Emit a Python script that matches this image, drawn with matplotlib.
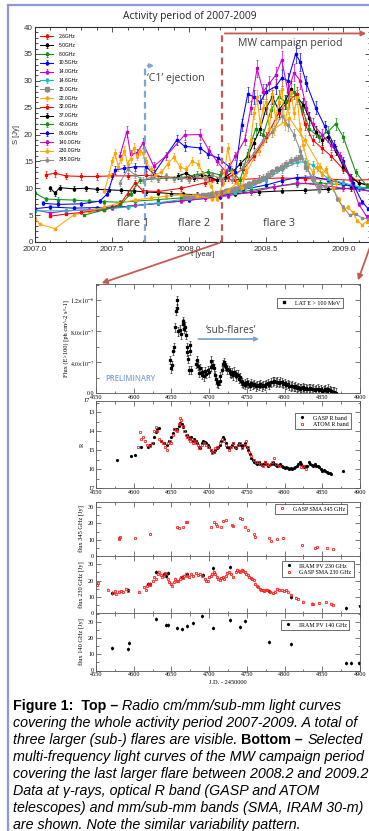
import matplotlib
matplotlib.use('Agg')
import matplotlib.pyplot as plt
import numpy as np
from matplotlib.ticker import MultipleLocator
from matplotlib.patches import FancyArrowPatch
from matplotlib.lines import Line2D

plt.rcParams['font.family'] = ['Liberation Serif', 'DejaVu Serif']
plt.rcParams['mathtext.fontset'] = 'stix'

SANS = ['Liberation Sans', 'DejaVu Sans']
HUM = ['Open Sans', 'DejaVu Sans']

# ---------------- top panel: radio light curves 2007-2009 (year, Jy) ----------------
F2_6 = [(2007.07, 12.5), (2007.13, 12.8), (2007.2, 12.3), (2007.3, 12.2), (2007.4, 12.2), (2007.5, 12.3),
        (2007.6, 12.3), (2007.72, 12.4), (2007.85, 12.1), (2008.0, 11.9), (2008.15, 11.7), (2008.3, 11.6),
        (2008.45, 11.8), (2008.6, 11.9), (2008.75, 11.8), (2008.9, 11.7), (2009.05, 11.5), (2009.2, 11.6)]
F5_0 = [(2007.1, 10.0), (2007.13, 9.1), (2007.16, 10.1), (2007.25, 9.9), (2007.33, 10.0), (2007.4, 9.8),
        (2007.48, 9.7), (2007.56, 9.6), (2007.64, 9.5), (2007.72, 9.3), (2007.8, 9.2), (2007.88, 9.0),
        (2007.96, 8.9), (2008.05, 8.8), (2008.15, 8.8), (2008.3, 9.0), (2008.45, 9.3), (2008.6, 9.5),
        (2008.75, 9.6), (2008.9, 9.8), (2009.05, 10.0), (2009.2, 10.1)]
F8_0 = [(2007.0, 9.1), (2007.07, 8.0), (2007.15, 7.9), (2007.25, 7.8), (2007.35, 7.6), (2007.45, 7.5),
        (2007.55, 7.4), (2007.65, 7.6), (2007.8, 7.9), (2007.95, 8.2), (2008.1, 8.6), (2008.25, 9.0),
        (2008.4, 9.6), (2008.55, 10.3), (2008.7, 10.8), (2008.85, 11.0), (2009.0, 10.6), (2009.2, 9.8)]
F10_5 = [(2007.0, 6.2), (2007.1, 6.5), (2007.25, 6.3), (2007.4, 6.4), (2007.5, 6.5), (2007.6, 6.6),
         (2007.8, 7.2), (2008.0, 7.8), (2008.2, 8.4), (2008.35, 9.8), (2008.5, 10.6), (2008.6, 11.4),
         (2008.7, 12.0), (2008.8, 12.1), (2008.9, 11.6), (2009.0, 10.8), (2009.1, 10.0), (2009.2, 9.2)]
F14_0 = [(2007.0, 6.0), (2007.1, 5.4), (2007.2, 5.8), (2007.35, 6.0), (2007.5, 6.3), (2007.65, 6.8),
         (2007.8, 7.2), (2007.95, 7.6), (2008.1, 8.1), (2008.25, 8.6), (2008.4, 9.3), (2008.55, 10.2),
         (2008.7, 11.0), (2008.85, 10.6), (2009.0, 10.0), (2009.2, 9.4)]
F14_6 = [(2007.0, 5.8), (2007.2, 5.8), (2007.4, 6.0), (2007.6, 6.5), (2007.8, 7.3), (2008.0, 8.1),
         (2008.15, 8.7), (2008.3, 9.2), (2008.4, 10.3), (2008.5, 11.6), (2008.6, 13.5), (2008.7, 14.8),
         (2008.75, 14.9), (2008.8, 14.3), (2008.9, 11.8), (2009.0, 11.0), (2009.1, 10.3), (2009.2, 9.7)]
F15_0 = [(2007.97, 8.3), (2008.0, 8.4), (2008.03, 8.5), (2008.06, 8.6), (2008.09, 8.7), (2008.12, 8.8),
         (2008.15, 9.0), (2008.18, 9.1), (2008.21, 9.3), (2008.24, 9.5), (2008.27, 9.7), (2008.3, 9.9),
         (2008.33, 10.2), (2008.36, 10.5), (2008.39, 10.8), (2008.42, 11.2), (2008.45, 11.6), (2008.48, 12.0),
         (2008.51, 12.5), (2008.54, 13.0), (2008.57, 13.5), (2008.6, 14.0), (2008.63, 14.5), (2008.66, 15.0),
         (2008.69, 15.5), (2008.72, 15.9), (2008.76, 14.0), (2008.8, 12.0), (2008.84, 10.5)]
F22_0 = [(2007.0, 4.5), (2007.03, 3.3), (2007.13, 2.5), (2007.25, 5.0), (2007.35, 5.8), (2007.45, 6.5),
         (2007.55, 7.3), (2007.65, 7.8), (2007.75, 8.2), (2007.85, 8.5), (2007.95, 8.8), (2008.05, 8.6),
         (2008.15, 8.0), (2008.25, 9.5), (2008.35, 12.0), (2008.45, 17.0), (2008.55, 21.0), (2008.65, 23.0),
         (2008.75, 19.0), (2008.85, 14.0), (2008.95, 11.0)]
F32_0 = [(2007.1, 4.8), (2007.2, 5.2), (2007.3, 5.5), (2007.45, 6.0), (2007.55, 7.0), (2007.6, 9.0),
         (2007.65, 11.0), (2007.7, 9.5), (2007.8, 9.4), (2007.95, 10.0), (2008.1, 11.0), (2008.25, 12.0),
         (2008.35, 13.5), (2008.42, 16.0), (2008.5, 19.5), (2008.58, 24.0), (2008.65, 26.5), (2008.7, 27.5),
         (2008.75, 22.0), (2008.8, 19.0), (2008.86, 17.5), (2008.92, 16.0), (2009.0, 13.5), (2009.1, 11.0),
         (2009.2, 10.5)]
F37_0 = [(2007.93, 12.3), (2007.98, 12.8), (2008.03, 12.0), (2008.08, 12.5), (2008.13, 12.2), (2008.18, 11.5),
         (2008.23, 12.0), (2008.28, 13.0), (2008.33, 14.5), (2008.38, 16.0), (2008.42, 18.5), (2008.46, 21.0),
         (2008.5, 25.0), (2008.54, 27.0), (2008.58, 24.5), (2008.62, 26.0), (2008.66, 28.5), (2008.7, 27.0),
         (2008.74, 25.5), (2008.78, 23.0), (2008.82, 20.5), (2008.86, 19.0), (2008.9, 19.5), (2008.95, 17.0),
         (2009.0, 14.0), (2009.05, 12.0), (2009.1, 11.0), (2009.2, 10.2)]
F43_0 = [(2007.32, 5.0), (2007.45, 6.0), (2007.55, 6.8), (2007.62, 9.0), (2007.68, 11.5), (2007.8, 11.8),
         (2007.95, 12.0), (2008.05, 12.5), (2008.12, 13.0), (2008.2, 12.5), (2008.27, 13.5), (2008.33, 11.5),
         (2008.38, 16.5), (2008.43, 21.0), (2008.48, 20.0), (2008.53, 24.5), (2008.58, 27.0), (2008.63, 26.0),
         (2008.68, 28.0), (2008.73, 25.0), (2008.78, 21.0), (2008.84, 19.5), (2008.9, 20.5), (2008.95, 22.0),
         (2009.0, 19.5), (2009.08, 13.0), (2009.15, 10.5), (2009.2, 9.5)]
F86_0 = [(2007.05, 7.2), (2007.15, 7.0), (2007.3, 7.1), (2007.42, 7.6), (2007.47, 9.0), (2007.52, 13.4),
         (2007.58, 13.7), (2007.65, 14.0), (2007.72, 14.0), (2007.77, 12.7), (2007.92, 19.0), (2007.97, 17.8),
         (2008.07, 17.5), (2008.12, 16.4), (2008.19, 15.6), (2008.26, 14.0), (2008.3, 13.0), (2008.34, 21.8),
         (2008.38, 27.5), (2008.42, 27.0), (2008.46, 26.0), (2008.5, 28.0), (2008.56, 28.9), (2008.6, 30.5),
         (2008.64, 30.0), (2008.69, 35.0), (2008.72, 33.5), (2008.76, 29.5), (2008.82, 25.0), (2008.88, 21.5),
         (2008.94, 18.0), (2009.0, 15.0), (2009.06, 11.0), (2009.12, 7.5), (2009.16, 6.2), (2009.2, 6.0)]
F140 = [(2007.55, 16.0), (2007.595, 20.5), (2007.62, 16.3), (2007.66, 16.5), (2007.7, 18.4), (2007.77, 14.1),
        (2007.85, 16.0), (2007.97, 19.9), (2008.07, 20.0), (2008.13, 17.0), (2008.18, 15.0), (2008.24, 13.0),
        (2008.3, 16.0), (2008.36, 19.0), (2008.4, 25.0), (2008.44, 32.3), (2008.48, 28.0), (2008.52, 29.5),
        (2008.56, 31.0), (2008.6, 33.9), (2008.64, 28.0), (2008.68, 31.5), (2008.72, 30.0), (2008.76, 25.0),
        (2008.8, 22.0), (2008.86, 20.0), (2008.92, 18.0), (2008.98, 16.0), (2009.04, 12.0), (2009.1, 7.0),
        (2009.15, 4.8), (2009.2, 5.0)]
F230 = [(2007.45, 9.5), (2007.48, 12.5), (2007.5, 15.0), (2007.52, 16.5), (2007.54, 14.0), (2007.56, 15.5),
        (2007.58, 17.0), (2007.6, 14.5), (2007.62, 15.5), (2007.64, 17.5), (2007.66, 16.0), (2007.68, 17.0),
        (2007.7, 16.5), (2007.72, 15.0), (2007.75, 13.5), (2007.78, 12.5), (2007.82, 13.0), (2007.86, 14.5),
        (2007.9, 15.8), (2007.94, 14.0), (2007.98, 13.5), (2008.02, 15.0), (2008.06, 14.5), (2008.1, 12.0),
        (2008.14, 10.5), (2008.18, 8.0), (2008.22, 11.0), (2008.25, 17.5), (2008.28, 13.0), (2008.31, 11.0),
        (2008.34, 10.0), (2008.37, 13.0), (2008.4, 19.0), (2008.42, 24.0), (2008.44, 27.0), (2008.46, 22.0),
        (2008.48, 25.0), (2008.5, 26.0), (2008.52, 21.0), (2008.54, 27.5), (2008.56, 23.0), (2008.58, 26.0),
        (2008.6, 28.5), (2008.62, 22.0), (2008.64, 25.0), (2008.66, 28.0), (2008.68, 24.0), (2008.7, 27.0),
        (2008.72, 21.0), (2008.74, 18.0), (2008.77, 14.5), (2008.8, 13.0), (2008.83, 14.0), (2008.86, 12.5),
        (2008.89, 13.5), (2008.93, 10.0), (2008.97, 8.0), (2009.0, 6.0), (2009.03, 6.5), (2009.06, 5.5),
        (2009.09, 4.0), (2009.12, 3.2), (2009.15, 3.8), (2009.18, 3.5)]
F345 = [(2007.55, 11.0), (2007.6, 13.5), (2007.65, 12.5), (2007.7, 11.5), (2007.75, 12.0), (2007.8, 11.8),
        (2007.85, 12.3), (2007.9, 11.7), (2007.95, 12.0), (2008.0, 11.5), (2008.05, 12.2), (2008.1, 11.8),
        (2008.15, 12.4), (2008.2, 11.9), (2008.28, 11.5), (2008.35, 14.0), (2008.42, 16.5), (2008.48, 19.0),
        (2008.54, 20.5), (2008.6, 23.5), (2008.64, 21.8), (2008.68, 20.0), (2008.72, 17.0), (2008.76, 14.0),
        (2008.8, 11.5), (2008.84, 9.5), (2008.88, 10.5), (2008.92, 11.2), (2008.96, 8.0), (2009.0, 6.5),
        (2009.04, 5.0), (2009.08, 5.2), (2009.12, 4.5), (2009.16, 4.3)]

RADIO = [('2.6GHz', F2_6, '#ff0000'), ('5.0GHz', F5_0, '#000000'), ('8.0GHz', F8_0, '#109010'),
         ('10.5GHz', F10_5, '#0000ff'), ('14.0GHz', F14_0, '#cc00cc'), ('14.6GHz', F14_6, '#10c0c0'),
         ('15.0GHz', F15_0, '#8c8c8c'), ('22.0GHz', F22_0, '#ffa500'), ('32.0GHz', F32_0, '#ff0000'),
         ('37.0GHz', F37_0, '#000000'), ('43.0GHz', F43_0, '#109010'), ('86.0GHz', F86_0, '#0000ff'),
         ('140.0GHz', F140, '#cc00cc'), ('230.0GHz', F230, '#ffa500'), ('345.0GHz', F345, '#8c8c8c')]

# ---------------- bottom panels (JD - 2450000) ----------------
GAMMA = [(4648, 4.3), (4650, 3.2), (4651, 3.6), (4652, 5.5), (4653, 6.0), (4655, 8.5), (4656, 10.6), (4657, 12.0),
         (4658, 11.0), (4659, 8.0), (4661, 8.2), (4663, 7.6), (4665, 9.3), (4666, 9.0), (4667, 8.3), (4668, 8.6),
         (4669, 7.5), (4670, 6.0), (4671, 5.3), (4672, 4.4), (4673, 3.0), (4674, 5.5), (4675, 6.2), (4676, 3.0),
         (4683, 3.8), (4684, 4.3), (4685, 3.5), (4687, 2.6), (4688, 3.2), (4690, 2.4), (4691, 2.8), (4693, 2.2),
         (4694, 2.9), (4696, 2.5), (4698, 3.0), (4700, 2.7), (4702, 3.4), (4703, 4.2), (4705, 3.7), (4706, 3.2),
         (4708, 2.3), (4709, 1.8), (4711, 1.4), (4712, 1.2), (4714, 1.6), (4715, 2.2), (4717, 3.0), (4718, 3.8),
         (4720, 4.0), (4721, 3.6), (4723, 3.4), (4724, 3.1), (4726, 3.0), (4727, 2.7), (4729, 2.5), (4730, 2.7),
         (4732, 2.3), (4733, 2.8), (4735, 2.5), (4736, 2.2), (4738, 2.4), (4739, 1.9), (4741, 2.1), (4742, 1.6),
         (4744, 1.4), (4745, 1.2), (4747, 1.3), (4748, 1.1), (4750, 1.4), (4752, 1.2), (4754, 1.0), (4756, 1.3),
         (4758, 1.1), (4760, 1.2), (4762, 0.9), (4764, 1.1), (4766, 1.0), (4768, 1.2), (4770, 0.9), (4772, 1.1),
         (4774, 1.0), (4776, 1.2), (4778, 1.3), (4780, 1.1), (4782, 1.4), (4784, 1.5), (4786, 1.6), (4788, 1.4),
         (4790, 1.5), (4792, 1.3), (4794, 1.5), (4796, 1.4), (4798, 1.2), (4800, 1.3), (4802, 1.1), (4804, 1.2),
         (4806, 1.0), (4808, 0.9), (4810, 1.0), (4812, 0.8), (4814, 0.9), (4816, 0.7), (4818, 0.8), (4820, 0.6),
         (4822, 0.7), (4824, 0.8), (4826, 0.6), (4828, 0.7), (4830, 0.5), (4832, 0.6), (4834, 0.7), (4836, 0.5),
         (4838, 0.6), (4840, 0.4), (4842, 0.5), (4844, 0.6), (4846, 0.4), (4848, 0.5), (4850, 0.3), (4852, 0.4),
         (4854, 0.5), (4856, 0.3), (4858, 0.6), (4860, 0.4), (4862, 0.3), (4864, 0.2), (4866, 0.2), (4868, 0.1)]
GAMMA_TICKS = [0, 4, 8, 12]
GAMMA_TICKLABELS = ['0.0', r'$4.0{\times}10^{-7}$', r'$8.0{\times}10^{-7}$', r'$1.2{\times}10^{-6}$']

GASP_R = [(4578, 15.5), (4596, 15.3), (4602, 15.25), (4610, 14.85), (4619, 14.8), (4622, 14.7), (4625, 14.6),
          (4627, 14.3), (4629, 14.05), (4631, 13.9), (4633, 13.8), (4636, 14.5), (4640, 14.6), (4644, 14.7),
          (4647, 14.5), (4650, 14.3), (4652, 14.1), (4654, 13.9), (4656, 13.85), (4658, 13.9), (4660, 13.7),
          (4662, 13.55), (4664, 13.6), (4666, 13.75), (4668, 14.0), (4670, 14.2), (4672, 14.3), (4674, 14.4),
          (4676, 14.3), (4678, 14.5), (4680, 14.4), (4682, 14.5), (4684, 14.6), (4686, 14.8), (4688, 14.9),
          (4690, 14.6), (4692, 14.5), (4694, 14.55), (4696, 14.6), (4698, 14.7), (4700, 14.8), (4702, 15.0),
          (4704, 15.1), (4706, 15.1), (4708, 15.0), (4710, 14.9), (4712, 14.8), (4714, 14.7), (4716, 14.5),
          (4718, 14.3), (4720, 14.4), (4722, 14.6), (4724, 14.8), (4726, 14.9), (4728, 14.8), (4730, 14.7),
          (4732, 14.6), (4734, 14.8), (4736, 14.9), (4738, 14.7), (4740, 14.6), (4742, 14.7), (4744, 14.8),
          (4746, 14.7), (4748, 14.6), (4750, 14.8), (4752, 15.0), (4754, 15.2), (4756, 15.4), (4758, 15.5),
          (4760, 15.6), (4762, 15.65), (4764, 15.7), (4766, 15.6), (4768, 15.7), (4770, 15.75), (4772, 15.7),
          (4774, 15.6), (4776, 15.7), (4778, 15.8), (4780, 15.75), (4782, 15.7), (4784, 15.6), (4786, 15.7),
          (4788, 15.75), (4790, 15.8), (4792, 15.75), (4794, 15.7), (4796, 15.85), (4798, 15.9), (4800, 15.95),
          (4802, 15.9), (4804, 15.95), (4806, 16.0), (4808, 15.95), (4810, 16.0), (4812, 15.95), (4814, 15.9),
          (4816, 15.8), (4818, 15.7), (4820, 15.6), (4822, 15.7), (4824, 15.8), (4826, 15.9), (4828, 15.85),
          (4830, 15.8), (4832, 15.6), (4834, 15.7), (4836, 15.75), (4838, 15.8), (4840, 15.7), (4842, 15.8),
          (4844, 15.85), (4846, 15.9), (4848, 16.0), (4850, 16.1), (4852, 16.05), (4854, 16.1), (4856, 16.15),
          (4858, 16.2), (4860, 16.2), (4862, 16.25), (4877, 16.1)]
ATOM_R = [(4606, 14.8), (4608, 14.05), (4610, 14.4), (4612, 14.3), (4615, 14.5), (4618, 14.7), (4621, 14.75),
          (4624, 14.6), (4627, 14.0), (4629, 13.75), (4631, 14.0), (4633, 14.4), (4636, 14.5), (4639, 14.6),
          (4642, 14.8), (4644, 15.0), (4646, 14.6), (4648, 14.5), (4650, 14.6), (4652, 14.2), (4654, 13.9),
          (4656, 13.95), (4658, 14.0), (4660, 13.6), (4661, 13.3), (4663, 13.4), (4665, 13.7), (4667, 14.0),
          (4669, 14.2), (4671, 14.3), (4673, 14.4), (4675, 14.5), (4677, 14.4), (4679, 14.6), (4681, 14.5),
          (4683, 14.6), (4685, 14.7), (4687, 14.9), (4690, 14.7), (4693, 14.6), (4696, 14.7), (4699, 14.8),
          (4702, 15.0), (4704, 15.15), (4706, 15.1), (4708, 14.9), (4711, 14.8), (4714, 14.6), (4717, 14.4),
          (4720, 14.5), (4723, 14.7), (4726, 15.0), (4729, 14.8), (4732, 14.6), (4735, 14.8), (4738, 14.7),
          (4741, 14.6), (4744, 14.9), (4747, 14.7), (4749, 14.5), (4751, 14.8), (4753, 15.1), (4756, 15.3),
          (4759, 15.5), (4762, 15.6), (4765, 15.6), (4768, 15.7), (4771, 15.8), (4774, 15.6), (4777, 15.7),
          (4780, 15.75), (4783, 15.6), (4786, 15.4), (4789, 15.7), (4792, 15.8), (4822, 15.9), (4825, 15.8),
          (4828, 16.0)]
SMA345 = [(4580, 10.4), (4581, 11.2), (4582, 11.8), (4602, 10.8), (4621, 13.3), (4658, 17.6), (4660, 17.0),
          (4665, 18.0), (4669, 20.6), (4670, 21.0), (4702, 17.7), (4706, 21.0), (4709, 19.4), (4711, 18.6),
          (4716, 17.8), (4719, 21.5), (4722, 22.1), (4730, 19.0), (4732, 18.4), (4741, 23.1), (4744, 22.7),
          (4748, 18.0), (4751, 15.9), (4760, 13.3), (4761, 11.8), (4780, 11.1), (4782, 9.2), (4790, 10.2),
          (4798, 10.8), (4823, 6.7), (4840, 4.7), (4843, 5.3), (4856, 5.0), (4864, 4.2)]
IRAM230 = [(4571, 12.6), (4593, 14.3), (4619, 17.8), (4622, 18.2), (4630, 25.1), (4640, 24.0), (4643, 22.9),
           (4645, 24.5), (4664, 22.5), (4670, 24.1), (4692, 23.5), (4705, 28.0), (4727, 28.6), (4779, 13.9),
           (4808, 10.2), (4881, 3.1), (4900, 4.5)]
SMA230 = [(4551, 17.5), (4552, 18.5), (4566, 14.5), (4573, 12.5), (4575, 13.5), (4577, 12.0), (4580, 13.0),
          (4583, 13.5), (4586, 13.2), (4590, 15.0), (4592, 13.5), (4607, 13.0), (4613, 16.0), (4616, 14.5),
          (4618, 17.0), (4620, 18.0), (4622, 17.5), (4625, 20.0), (4627, 22.0), (4629, 21.0), (4632, 24.0),
          (4634, 25.5), (4636, 23.5), (4638, 22.0), (4640, 23.0), (4642, 24.5), (4645, 21.0), (4647, 19.0),
          (4649, 18.0), (4651, 17.0), (4653, 19.0), (4655, 21.0), (4657, 20.0), (4659, 19.5), (4661, 21.0),
          (4663, 22.0), (4665, 21.5), (4667, 23.0), (4669, 24.0), (4671, 23.0), (4673, 22.5), (4676, 24.0),
          (4679, 23.0), (4682, 24.5), (4685, 23.5), (4688, 24.0), (4691, 23.0), (4694, 21.0), (4696, 20.0),
          (4698, 19.5), (4700, 22.0), (4702, 23.0), (4704, 24.0), (4706, 25.5), (4708, 24.0), (4710, 22.5),
          (4712, 21.0), (4714, 20.5), (4716, 21.5), (4718, 22.0), (4720, 21.0), (4722, 23.0), (4724, 24.5),
          (4726, 25.0), (4729, 24.0), (4732, 22.0), (4735, 25.0), (4737, 26.5), (4739, 26.0), (4741, 25.5),
          (4743, 26.5), (4745, 26.0), (4747, 25.0), (4749, 24.0), (4751, 23.5), (4753, 22.5), (4755, 21.5),
          (4757, 21.0), (4759, 20.5), (4761, 18.0), (4763, 17.0), (4765, 16.0), (4767, 15.0), (4769, 14.5),
          (4771, 14.0), (4773, 13.5), (4775, 14.0), (4777, 14.5), (4779, 13.5), (4781, 13.0), (4784, 12.5),
          (4787, 13.0), (4790, 15.0), (4793, 14.5), (4796, 14.0), (4799, 13.5), (4802, 14.0), (4805, 13.0),
          (4808, 11.5), (4815, 9.5), (4818, 8.5), (4824, 7.0), (4836, 6.0), (4838, 5.8), (4845, 6.2),
          (4855, 6.8), (4861, 6.0), (4864, 5.2)]
IRAM140 = [(4571, 14.3), (4593, 13.2), (4594, 17.4), (4630, 32.2), (4643, 28.2), (4646, 28.4), (4657, 26.3),
           (4664, 25.9), (4670, 28.0), (4678, 29.9), (4691, 33.9), (4705, 26.8), (4727, 31.3), (4741, 27.0),
           (4748, 30.9), (4779, 17.6), (4808, 16.4), (4881, 4.5), (4888, 4.5), (4899, 4.9)]

CAPTION = [
    [("Figure 1:  Top \u2013 ", 'bold'), ("Radio cm/mm/sub-mm light curves", 'italic')],
    [("covering the whole activity period 2007-2009. A total of", 'italic')],
    [("three larger (sub-) flares are visible. ", 'italic'), ("Bottom \u2013 ", 'bold'), ("Selected", 'italic')],
    [("multi-frequency light curves of the MW campaign period", 'italic')],
    [("covering the last larger flare between 2008.2 and 2009.2", 'italic')],
    [("Data at \u03b3-rays, optical R band (GASP and ATOM", 'italic')],
    [("telescopes) and mm/sub-mm bands (SMA, IRAM 30-m)", 'italic')],
    [("are shown. Note the similar variability pattern.", 'italic')],
]

W, H = 369, 831
fig = plt.figure(figsize=(W / 100, H / 100), dpi=100)


def box(l, t, r, b):
    return [l / W, 1 - b / H, (r - l) / W, (b - t) / H]


def fxy(x, y):
    return (x / W, 1 - y / H)


# ================= top panel =================
ax = fig.add_axes(box(35, 27, 370, 242))
for lab, pts, col in RADIO:
    t, s = np.array(pts).T
    big = lab == '15.0GHz'
    ax.errorbar(t, s, yerr=0.05 * s, color=col, marker='s', ms=2.2 if big else 1.6, lw=0.75,
                elinewidth=0.5, capsize=0.9, capthick=0.5, label=lab)
ax.set_xlim(2007.0, 2007.0 + 335 / 154.2)
ax.set_ylim(0, 40)
xt = [2007.0, 2007.5, 2008.0, 2008.5, 2009.0]
ax.set_xticks(xt, labels=['%.1f' % v for v in xt], fontfamily=SANS, fontsize=5.8, color='#333333')
yt = [0, 5, 10, 15, 20, 25, 30, 35, 40]
ax.set_yticks(yt, labels=[str(v) for v in yt], fontfamily=SANS, fontsize=5.8, color='#333333')
ax.xaxis.set_minor_locator(MultipleLocator(0.1))
ax.yaxis.set_minor_locator(MultipleLocator(1))
ax.tick_params(which='both', direction='in', top=True, right=True, width=0.6, color='#333333')
ax.tick_params(axis='x', pad=2.6)
ax.tick_params(axis='y', pad=1.5)
ax.tick_params(which='major', length=3.5)
ax.tick_params(which='minor', length=1.8)
for sp in ax.spines.values():
    sp.set_linewidth(0.8)
    sp.set_color('#333333')
leg = ax.legend(loc='upper left', bbox_to_anchor=(0.012, 0.972), frameon=False,
                handlelength=2.6, handletextpad=1.2, labelspacing=0.76, handleheight=0.5,
                borderaxespad=0, borderpad=0.2, prop={'family': SANS, 'size': 3.6})

RED = '#c55a55'
BLUE = '#7ea6d2'
GREY = '#3f3f3f'
t_c1, t_mw = 2007.713, 2008.213
ax.plot([t_c1, t_c1], [0, 32.8], ls=(0, (3, 2)), color=BLUE, lw=1.6, zorder=20)
ax.annotate('', xy=(2007.79, 32.8), xytext=(t_c1, 32.8),
            arrowprops=dict(arrowstyle='-|>', color=BLUE, lw=1.3, mutation_scale=6), zorder=20)
ax.plot([t_mw, t_mw], [0, 38.8], ls=(0, (3, 2)), color=RED, lw=1.6, zorder=20)
ax.annotate('', xy=(2009.166, 38.8), xytext=(t_mw, 38.8), annotation_clip=False,
            arrowprops=dict(arrowstyle='-|>', color=RED, lw=1.3, mutation_scale=7), zorder=20)
ax.text(2008.654, 36.9, 'MW campaign period', ha='center', va='center', fontsize=7.6,
        family=HUM, color=GREY, zorder=21)
ax.text(2007.727, 30.4, '\u2018C1\u2019 ejection', ha='left', va='center', fontsize=7.6,
        family=HUM, color=GREY, zorder=21)
for lab, tx in [('flare 1', 2007.636), ('flare 2', 2008.031), ('flare 3', 2008.582)]:
    ax.text(tx, 3.5, lab, ha='center', va='center', fontsize=7.8, family=HUM, color=GREY, zorder=21)

fig.text(*fxy(190, 17), 'Activity period of 2007-2009', ha='center', va='center', fontsize=7.4,
         family=HUM, color='#222222')
fig.text(*fxy(17, 134), 'S [Jy]', ha='center', va='center', rotation=90, fontsize=5.5,
         family=SANS, color='#333333')
fig.text(*fxy(203, 255), 't [year]', ha='center', va='center', fontsize=5.5, family=SANS, color='#333333')


# ================= bottom panels =================
def panel(top, bottom, ylim, ylab, ylab_x, show_x):
    a = fig.add_axes(box(96, top, 360, bottom))
    a.set_xlim(4550, 4900)
    a.set_ylim(*ylim)
    a.xaxis.set_major_locator(MultipleLocator(50))
    a.xaxis.set_minor_locator(MultipleLocator(25))
    a.tick_params(which='both', direction='in', top=True, right=True, labelsize=4.5, pad=1.2,
                  width=0.5, color='#444444')
    a.tick_params(which='major', length=3.5)
    a.tick_params(which='minor', length=1.8)
    if not show_x:
        a.tick_params(labelbottom=False)
    for sp in a.spines.values():
        sp.set_linewidth(0.6)
        sp.set_color('#555555')
    fig.text(*fxy(ylab_x, (top + bottom) / 2), ylab, rotation=90, ha='center', va='center', fontsize=4.6)
    return a


def small_legend(a, anchor, **kw):
    lg = a.legend(loc='upper right', bbox_to_anchor=anchor, fontsize=4.3, fancybox=False,
                  edgecolor='#333333', framealpha=1, borderpad=0.4, handlelength=1.6,
                  handletextpad=1.0, labelspacing=0.2, borderaxespad=0, **kw)
    lg.get_frame().set_linewidth(0.5)
    return lg


# gamma rays
ag = panel(284, 393.3, (0, 14.1), 'Flux (E>100) [ph cm^-2 s^-1]', 66, True)
gx, gy = np.array(GAMMA).T
ag.errorbar(gx, gy, yerr=0.55, fmt='s', color='black', ms=1.4, elinewidth=0.4, capsize=0.6,
            capthick=0.4)
ag.plot([], [], 's', color='black', ms=1.6, label='LAT E > 100 MeV')
ag.set_yticks(GAMMA_TICKS, labels=GAMMA_TICKLABELS, fontsize=4.3)
ag.yaxis.set_minor_locator(MultipleLocator(2))
small_legend(ag, ((343 - 96) / 264, (393.3 - 298) / 109.3))
ag.text(4596, 1.85, 'PRELIMINARY', ha='center', va='center', fontsize=5.5, family=HUM,
        color='#7aa3d6', fontweight='semibold')
ag.text(4729, 8.1, '\u2018sub-flares\u2019', ha='center', va='center', fontsize=7.3, family=HUM, color=GREY)
ag.annotate('', xy=(4770, 7.0), xytext=(4682, 7.0),
            arrowprops=dict(arrowstyle='-|>', color=BLUE, lw=1.3, mutation_scale=6))

# optical R band
ar = panel(401, 488.3, (17, 12.4), 'R', 82, True)
rx, ry = np.array(GASP_R).T
ar.plot(rx, ry, 'o', color='black', ms=2.3, mew=0, label='GASP R band')
rx2, ry2 = np.array(ATOM_R).T
ar.plot(rx2, ry2, 's', mfc='none', mec='#ff2020', ms=2.1, mew=0.6, label='ATOM R band')
ar.set_yticks([13, 14, 15, 16, 17])
ar.yaxis.set_minor_locator(MultipleLocator(0.5))
small_legend(ar, ((351 - 96) / 264, (488.3 - 413) / 87.3))
ar.text(-0.025, 1.0, '17', transform=ar.transAxes, ha='right', va='center', fontsize=4.5)

# 345 GHz
a3 = panel(501.7, 556, (0, 33.3), 'flux 345 GHz [Jy]', 82, False)
sx, sy = np.array(SMA345).T
a3.plot(sx, sy, 's', mfc='none', mec='#ff2020', ms=2.1, mew=0.6, label='GASP SMA 345 GHz')
a3.set_yticks([0, 10, 20, 30])
a3.yaxis.set_minor_locator(MultipleLocator(5))
small_legend(a3, ((347.3 - 96) / 264, (556 - 504) / 54.3))

# 230 GHz
a2 = panel(556, 613.3, (0, 35.1), 'flux 230 GHz [Jy]', 82, False)
ix, iy = np.array(IRAM230).T
a2.errorbar(ix, iy, yerr=1.2, fmt='o', color='black', ms=2.3, mew=0, elinewidth=0.4)
a2.plot([], [], 'o', color='black', ms=2.3, mew=0, label='IRAM PV 230 GHz')
mx, my = np.array(SMA230).T
a2.errorbar(mx, my, yerr=1.0, fmt='s', mfc='none', mec='#ff2020', ecolor='#ff2020', ms=2.1, mew=0.6,
            elinewidth=0.3)
a2.plot([], [], 's', mfc='none', mec='#ff2020', ms=2.1, mew=0.6, label='GASP SMA 230 GHz')
a2.set_yticks([0, 10, 20, 30])
a2.yaxis.set_minor_locator(MultipleLocator(5))
small_legend(a2, ((354 - 96) / 264, (613.3 - 561) / 57.3))

# 140 GHz
a1 = panel(613.3, 670.5, (0, 35.7), 'flux 140 GHz [Jy]', 82, True)
px, py = np.array(IRAM140).T
a1.errorbar(px, py, yerr=1.2, fmt='o', color='black', ms=2.3, mew=0, elinewidth=0.4)
a1.plot([], [], 'o', color='black', ms=2.3, mew=0, label='IRAM PV 140 GHz')
a1.set_yticks([0, 10, 20, 30])
a1.yaxis.set_minor_locator(MultipleLocator(5))
small_legend(a1, ((349 - 96) / 264, (670.5 - 620) / 57.2))
fig.text(*fxy(228, 682), 'J.D. - 2450000', ha='center', va='center', fontsize=4.6)

# ================= connectors and frame =================
for (x0, y0), (x1, y1) in [((222, 242), (99, 284)), ((374, 236), (357, 283))]:
    fig.add_artist(FancyArrowPatch(fxy(x0, y0), fxy(x1, y1), transform=fig.transFigure,
                                   arrowstyle='-|>', mutation_scale=8, color=RED, lw=1.3))
fig.add_artist(Line2D([8 / W, 8 / W], [1 - 5 / H, 0], transform=fig.transFigure, color='#8e9ad6', lw=1.6))
fig.add_artist(Line2D([8 / W, 1], [1 - 5 / H, 1 - 5 / H], transform=fig.transFigure, color='#8e9ad6', lw=1.6))

# ================= caption =================
renderer = fig.canvas.get_renderer()
CAP_SIZE = 10.3


def run_width(txt, style):
    kw = dict(fontsize=CAP_SIZE, family=SANS)
    if style == 'bold':
        kw['fontweight'] = 'bold'
    else:
        kw['fontstyle'] = 'italic'
    t1 = fig.text(0, 0, txt + 'x', **kw)
    t2 = fig.text(0, 0, 'x', **kw)
    w = t1.get_window_extent(renderer).width - t2.get_window_extent(renderer).width
    t1.remove()
    t2.remove()
    return w, kw


for i, runs in enumerate(CAPTION):
    x = 13.0
    base = 710 + 17 * i
    for txt, style in runs:
        w, kw = run_width(txt, style)
        fig.text(x / W, 1 - base / H, txt, ha='left', va='baseline', color='black', **kw)
        x += w

fig.savefig('out.png', dpi=100)
